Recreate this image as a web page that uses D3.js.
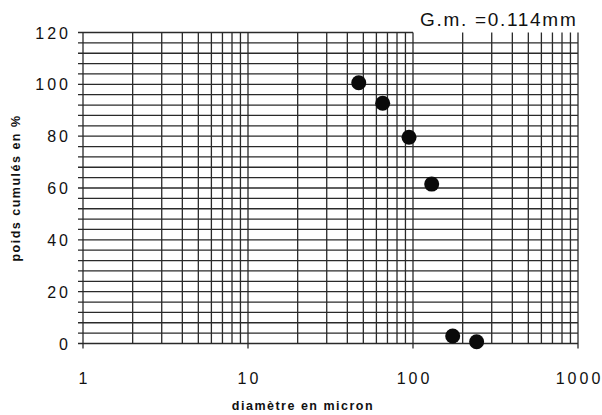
<!DOCTYPE html>
<html><head><meta charset="utf-8">
<script src="https://cdn.jsdelivr.net/npm/d3@7"></script>
<style>body{margin:0;background:#fff}svg{display:block}text{font-family:"Liberation Sans",Arial,sans-serif;fill:#111}</style>
</head><body><svg id="c" width="602" height="415"></svg>
<script>
const diameters = [46.9, 65.5, 94.6, 129.8, 174, 243];
const cumulative = [100.6, 92.7, 79.6, 61.5, 2.9, 0.7];
const xTicks = [1, 10, 100, 1000];
const yTicks = [0, 20, 40, 60, 80, 100, 120];
const annotation = "G.m. =0.114mm";
const xTitle = "diamètre en micron";
const yTitle = "poids cumulés en %";

const svg = d3.select("#c");
const x = d3.scaleLog().domain([1, 1000]).range([83, 578]);
const y = d3.scaleLinear().domain([0, 120]).range([343.5, 32.5]);

const grid = svg.append("g").attr("stroke", "#2a2a2a").attr("stroke-width", 1.3);
const hVals = d3.range(0, 121, 4);
grid.selectAll("line.h").data(hVals).join("line")
  .attr("x1", x(1) - 5)
  .attr("x2", d => d === 120 ? x(100) : x(1000))
  .attr("y1", d => y(d)).attr("y2", d => y(d));
const vVals = [];
for (let dec = 1; dec < 1000; dec *= 10) for (let k = 1; k < 10; k++) vVals.push(dec * k);
vVals.push(1000);
grid.selectAll("line.v").data(vVals).join("line")
  .attr("x1", d => x(d)).attr("x2", d => x(d))
  .attr("y1", y(120)).attr("y2", d => xTicks.includes(d) ? y(0) + 5 : y(0));

svg.append("g").selectAll("text").data(yTicks).join("text")
  .attr("x", 71).attr("y", d => y(d) + 6)
  .attr("text-anchor", "end").attr("font-size", 16).attr("letter-spacing", 3)
  .text(d => d);
svg.append("g").selectAll("text").data(xTicks).join("text")
  .attr("x", d => x(d) + 1.5).attr("y", 384)
  .attr("text-anchor", "middle").attr("font-size", 16).attr("letter-spacing", 3)
  .text(d => d);

svg.append("text").attr("x", 303).attr("y", 410).attr("text-anchor", "middle")
  .attr("font-size", 12.5).attr("font-weight", "bold").attr("letter-spacing", 1.5).text(xTitle);
svg.append("text").attr("transform", "translate(20,188) rotate(-90)").attr("text-anchor", "middle")
  .attr("font-size", 12.5).attr("font-weight", "bold").attr("letter-spacing", 1.5).text(yTitle);

svg.append("text").attr("x", 420).attr("y", 26).attr("font-size", 19)
  .attr("letter-spacing", 1.7).text(annotation);

svg.append("g").selectAll("circle").data(diameters.map((d, i) => [d, cumulative[i]])).join("circle")
  .attr("cx", d => x(d[0])).attr("cy", d => y(d[1])).attr("r", 7.5).attr("fill", "#0a0a0a");
</script></body></html>
